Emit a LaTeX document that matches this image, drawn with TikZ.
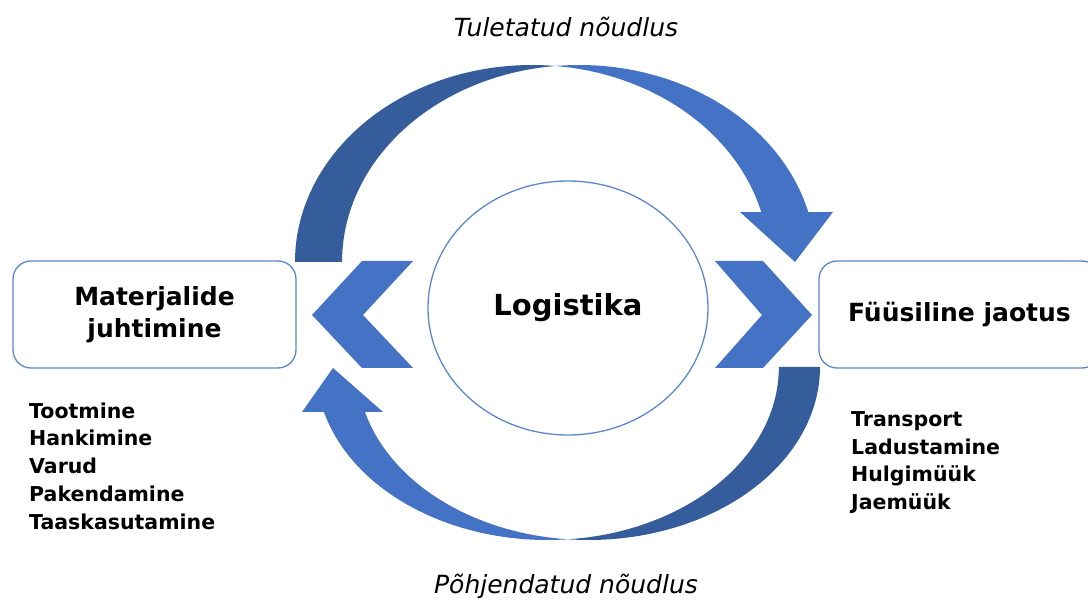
\documentclass[tikz,border=0pt]{standalone}
\usepackage{fontspec}
\setmainfont{DejaVu Sans}
\usetikzlibrary{shapes.geometric,calc}
\definecolor{arrowblue}{HTML}{4472C4}
\definecolor{arrowdark}{HTML}{355C9B}
\definecolor{lineblue}{HTML}{5B86CF}
\tikzset{
  box/.style={draw=lineblue, line width=1.3pt, rounded corners=18pt, fill=white,
    minimum height=107pt, inner sep=0pt, align=center,
    font=\fontsize{25}{32}\selectfont\bfseries},
  hub/.style={draw=lineblue, line width=1.3pt, ellipse, minimum width=280pt,
    minimum height=254pt, inner sep=0pt, font=\fontsize{29}{34}\selectfont\bfseries},
  flowlabel/.style={inner sep=0pt, font=\fontsize{25}{30}\selectfont\itshape},
  itemlist/.style={inner sep=0pt, align=left, anchor=west,
    font=\fontsize{20.5}{27.7}\selectfont\bfseries},
  chevron/.style={fill=arrowblue},
  bandlight/.style={fill=arrowblue},
  banddark/.style={fill=arrowdark}
}
\begin{document}
\begin{tikzpicture}[x=1pt,y=1pt]
\useasboundingbox (0,0) rectangle (1088,603);

% upper curved arrow: two equal ellipses shifted sideways
\coordinate (ua) at (532,341);
\coordinate (ub) at (579,341);
\fill[banddark] (295,341) arc[start angle=180, end angle=84.3, x radius=237, y radius=197]
  arc[start angle=95.7, end angle=180, x radius=237, y radius=197] -- cycle;
\fill[bandlight] ($(ua)+(84.3:237 and 197)$)
  arc[start angle=95.7, end angle=14.7, x radius=237, y radius=197]
  -- (833,391) -- (795,341) -- (740,391) -- ($(ua)+(14.7:237 and 197)$)
  arc[start angle=14.7, end angle=84.3, x radius=237, y radius=197] -- cycle;

% lower curved arrow
\coordinate (la) at (588.5,236);
\coordinate (lb) at (547.5,236);
\fill[banddark] (820,236) arc[start angle=360, end angle=264.9, x radius=231.5, y radius=173]
  arc[start angle=275.1, end angle=360, x radius=231.5, y radius=173] -- cycle;
\fill[bandlight] ($(lb)+(275.1:231.5 and 173)$)
  arc[start angle=275.1, end angle=195.07, x radius=231.5, y radius=173]
  -- (302,191) -- (333,235) -- (383,191) -- ($(la)+(195.07:231.5 and 173)$)
  arc[start angle=195.07, end angle=264.9, x radius=231.5, y radius=173] -- cycle;

% chevrons beside the hub
\fill[chevron] (413,342) -- (362,342) -- (312,288) -- (362,235) -- (413,235) -- (363,288) -- cycle;
\fill[chevron] (715,342) -- (763,342) -- (812,288) -- (763,235) -- (715,235) -- (762,288) -- cycle;

% boxes and hub
\node[box, minimum width=283pt] (mat) at (154.5,288.5) {Materjalide\\juhtimine};
\node[box, minimum width=281pt] (fys) at (959.5,288.5) {Füüsiline jaotus};
\node[hub] (log) at (568,295) {Logistika};

% flow labels
\node[flowlabel] (derived) at (566,576) {Tuletatud nõudlus};
\node[flowlabel] (justified) at (566,17) {Põhjendatud nõudlus};

% activity lists
\node[itemlist] (matlist) at (29,137) {Tootmine\\Hankimine\\Varud\\Pakendamine\\Taaskasutamine};
\node[itemlist] (fyslist) at (851,140.5) {Transport\\Ladustamine\\Hulgimüük\\Jaemüük};
\end{tikzpicture}
\end{document}
